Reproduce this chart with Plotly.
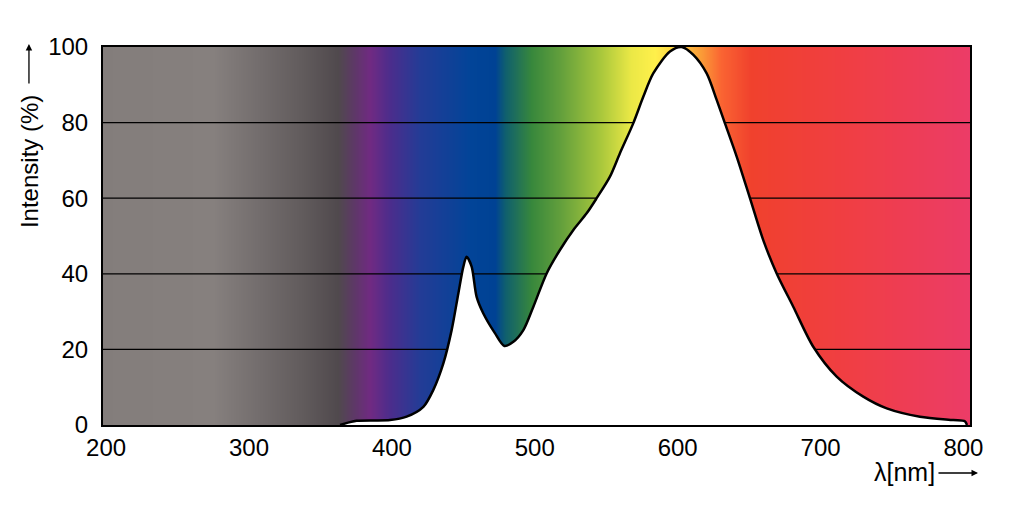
import plotly.graph_objects as go

# emission spectrum
wavelength = [363.7, 375.3, 398.7, 410.3, 422.0, 429.0, 436.0, 441.8, 446.5, 450.0,
              452.3, 455.8, 459.3, 464.0, 472.1, 478.7, 485.0, 492.0, 499.0, 508.3,
              517.6, 527.0, 536.3, 543.3, 552.6, 559.6, 568.9, 576.0, 582.9, 594.6,
              602.8, 611.0, 620.3, 627.3, 633.1, 641.3, 650.6, 659.9, 669.3, 680.9,
              694.9, 711.3, 729.9, 746.3, 769.6, 792.9, 801.0, 802.5]
intensity = [0, 1.1, 1.3, 2.2, 4.8, 9.3, 16.3, 25.1, 34.8, 41.9,
             44.5, 41.9, 33.9, 29.5, 24.3, 20.9, 22.0, 25.1, 31.3, 40.1,
             46.3, 51.6, 56.0, 60.0, 65.7, 71.9, 79.8, 86.9, 93.0, 98.8,
             100.0, 97.9, 93.0, 86.0, 79.8, 71.0, 60.0, 48.9, 40.1, 31.3,
             20.7, 12.8, 7.5, 4.4, 2.2, 1.3, 1.0, 0]

# background colour band (stops in nm)
spec_nm = [190, 275, 305, 336, 362, 374, 385, 399, 420, 455, 472, 479, 497,
           518, 546, 567, 584, 600, 616, 630, 651, 721, 815]
spec_col = ['rgb(131,125,123)', 'rgb(134,128,126)', 'rgb(116,110,110)', 'rgb(98,92,93)',
            'rgb(80,73,77)', 'rgb(95,55,105)', 'rgb(112,42,130)', 'rgb(75,45,140)',
            'rgb(35,60,150)', 'rgb(2,68,152)', 'rgb(0,66,148)', 'rgb(15,95,110)',
            'rgb(55,135,60)', 'rgb(100,160,60)', 'rgb(170,200,60)', 'rgb(235,232,70)',
            'rgb(255,240,75)', 'rgb(253,205,65)', 'rgb(250,155,55)', 'rgb(250,100,50)',
            'rgb(240,65,45)', 'rgb(240,62,68)', 'rgb(235,60,108)']

x_ticks = [200, 300, 400, 500, 600, 700, 800]
y_ticks = [0, 20, 40, 60, 80, 100]
x_range = [197.8, 804.6]

lo, hi = spec_nm[0], spec_nm[-1]
cscale = [[(n - lo) / (hi - lo), c] for n, c in zip(spec_nm, spec_col)]

fig = go.Figure()
fig.add_trace(go.Heatmap(x=spec_nm, y=[0, 100], z=[spec_nm, spec_nm],
                         colorscale=cscale, zsmooth='best', showscale=False,
                         hoverinfo='skip'))

# grid lines have to sit above the colour band
for v in y_ticks[1:-1]:
    fig.add_trace(go.Scatter(x=x_range, y=[v, v], mode='lines',
                             line=dict(color='black', width=1.3),
                             hoverinfo='skip', showlegend=False))

fig.add_trace(go.Scatter(x=wavelength, y=intensity, mode='lines',
                         line=dict(color='black', width=2.5, shape='spline', smoothing=0.8),
                         fill='tozeroy', fillcolor='white', showlegend=False))

fig.update_xaxes(range=x_range, tickvals=x_ticks, showgrid=False, zeroline=False,
                 showline=True, mirror=True, linecolor='black', linewidth=2,
                 ticks='', tickfont=dict(size=24, color='black'))
fig.update_yaxes(range=[0, 100], tickvals=y_ticks, showgrid=False, zeroline=False,
                 showline=True, mirror=True, linecolor='black', linewidth=2,
                 ticks='', ticklabelstandoff=8, tickfont=dict(size=24, color='black'))

# page body adds 8px, so the figure is 8px smaller
fig.update_layout(
    width=1017, height=517,
    margin=dict(l=95, r=55, t=39, b=100),
    paper_bgcolor='white', plot_bgcolor='white',
    font=dict(family='Liberation Sans, Arial, sans-serif', color='black'),
    showlegend=False,
    annotations=[
        dict(text='Intensity (%)', xref='paper', yref='paper', x=-0.084, y=0.696,
             xanchor='center', yanchor='middle',
             textangle=-90, showarrow=False, font=dict(size=24)),
        dict(text='', xref='paper', yref='paper', x=-0.0854, y=1.008,
             ax=0, ay=41, showarrow=True, arrowhead=2, arrowsize=1, arrowwidth=1.3,
             arrowcolor='black'),
        dict(text='λ[nm]', xref='paper', yref='paper', x=0.924, y=-0.124,
             xanchor='center', yanchor='middle',
             showarrow=False, font=dict(size=25)),
        dict(text='', xref='paper', yref='paper', x=1.0092, y=-0.127,
             ax=-41, ay=0, showarrow=True, arrowhead=2, arrowsize=1, arrowwidth=1.3,
             arrowcolor='black'),
    ],
)

fig.write_html("out.html")
